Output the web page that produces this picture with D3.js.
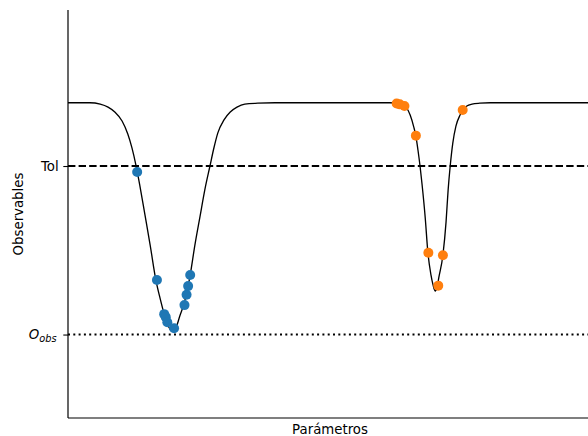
<!DOCTYPE html>
<html><head><meta charset="utf-8">
<script src="https://cdn.jsdelivr.net/npm/d3@7"></script>
<style>body{margin:0;background:#fff}svg{display:block}text{font-family:"DejaVu Sans",sans-serif}</style>
</head><body><svg id="c" width="588" height="436"></svg>
<script>
// Curve (observable as function of parameter)
const curveX = [0,0.42,0.62,0.77,0.90,1.04,1.15,1.23,1.31,1.38,1.48,1.58,1.69,1.77,1.85,1.92,2.00,2.08,2.15,2.23,2.31,2.35,2.44,2.54,2.63,2.73,2.81,2.88,3.00,3.12,3.25,3.40,3.65,3.98,
  6.19,6.35,6.42,6.50,6.58,6.65,6.69,6.73,6.77,6.81,6.87,6.92,6.98,7.02,7.06,7.10,7.13,7.21,7.27,7.31,7.35,7.40,7.46,7.54,7.60,7.67,7.77,7.92,8.12,10];
const curveY = [1.0,1.0,0.994,0.981,0.960,0.921,0.865,0.805,0.727,0.645,0.516,0.386,0.235,0.157,0.088,0.041,0.015,0.032,0.080,0.132,0.209,0.257,0.386,0.511,0.623,0.727,0.809,0.869,0.926,0.960,0.981,0.994,0.998,1.0,
  1.0,0.997,0.992,0.981,0.947,0.895,0.856,0.796,0.727,0.645,0.503,0.356,0.257,0.214,0.188,0.205,0.244,0.343,0.485,0.623,0.727,0.826,0.899,0.947,0.969,0.986,0.994,0.998,1.0,1.0];
// Blue samples
const blueX = [1.33,1.71,1.85,1.88,1.91,2.04,2.24,2.28,2.31,2.35];
const blueY = [0.701,0.235,0.088,0.075,0.053,0.027,0.127,0.172,0.209,0.257];
// Orange samples
const orangeX = [6.32,6.38,6.47,6.69,6.93,7.12,7.21,7.59];
const orangeY = [0.997,0.993,0.986,0.858,0.353,0.211,0.342,0.969];
// Reference levels / tick labels
const tolValue = 0.727;
const obsValue = 0.0;
const tickLabels = ["O_obs","Tol"];
const xLabel = "Parámetros";
const yLabel = "Observables";

const svg = d3.select("#c");
const L=68, R=588, T=10, B=418;
const FS = 13.3;
const x = d3.scaleLinear().domain([0,10]).range([L,R]);
const y = d3.scaleLinear().domain([-0.36,1.40]).range([B,T]);

// reference lines
svg.append("line").attr("x1",L).attr("x2",R).attr("y1",y(tolValue)).attr("y2",y(tolValue))
  .attr("stroke","#000").attr("stroke-width",2).attr("stroke-dasharray","7.4,3.2");
svg.append("line").attr("x1",L).attr("x2",R).attr("y1",y(obsValue)).attr("y2",y(obsValue))
  .attr("stroke","#000").attr("stroke-width",2).attr("stroke-dasharray","2,3.3");

// curve
const pts = curveX.map((d,i)=>[d,curveY[i]]);
svg.append("path").datum(pts)
  .attr("d", d3.line().x(d=>x(d[0])).y(d=>y(d[1])).curve(d3.curveMonotoneX))
  .attr("fill","none").attr("stroke","#000").attr("stroke-width",1.33);

// points
svg.append("g").selectAll("circle").data(blueX.map((d,i)=>[d,blueY[i]])).join("circle")
  .attr("cx",d=>x(d[0])).attr("cy",d=>y(d[1])).attr("r",5).attr("fill","#1f77b4");
svg.append("g").selectAll("circle").data(orangeX.map((d,i)=>[d,orangeY[i]])).join("circle")
  .attr("cx",d=>x(d[0])).attr("cy",d=>y(d[1])).attr("r",5).attr("fill","#ff7f0e");

// y axis ticks
const yAxis = d3.axisLeft(y).tickValues([obsValue,tolValue]).tickSize(4.7).tickPadding(4.7)
  .tickFormat((d,i)=>tickLabels[i]);
const ga = svg.append("g").attr("transform",`translate(${L},0)`).call(yAxis);
ga.select(".domain").remove();
ga.selectAll(".tick line").attr("stroke","#000").attr("stroke-width",1.1);
ga.selectAll(".tick text").attr("font-size",FS).attr("fill","#000").attr("font-family","DejaVu Sans")
  .each(function(d,i){
    const t=d3.select(this);
    if(tickLabels[i]==="O_obs"){
      t.text("").attr("dx",-2);
      t.append("tspan").attr("font-style","italic").text("O");
      t.append("tspan").attr("font-style","italic").attr("font-size",9.8).attr("dy","0.3em").text("obs");
    }
  });

// spines
svg.append("line").attr("x1",L).attr("x2",L).attr("y1",T).attr("y2",B).attr("stroke","#000").attr("stroke-width",1.2);
svg.append("line").attr("x1",L).attr("x2",R).attr("y1",B).attr("y2",B).attr("stroke","#000").attr("stroke-width",1.2);

// labels
svg.append("text").attr("x",(L+R)/2+2).attr("y",434).attr("text-anchor","middle").attr("font-size",FS).text(xLabel);
svg.append("text").attr("transform",`translate(23,${(T+B)/2}) rotate(-90)`).attr("text-anchor","middle").attr("font-size",FS).text(yLabel);
</script></body></html>
